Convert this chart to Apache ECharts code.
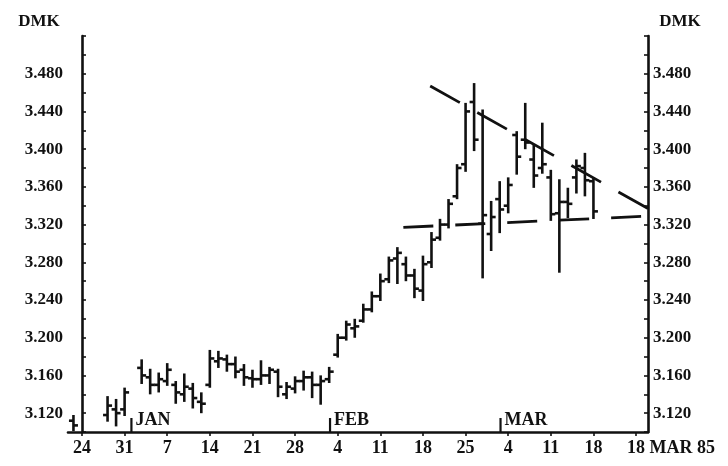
<!DOCTYPE html>
<html>
<head>
<meta charset="utf-8">
<script src="https://cdn.jsdelivr.net/npm/echarts@6/dist/echarts.min.js"></script>
<style>
  html, body { margin: 0; padding: 0; background: #ffffff; }
  #chart { width: 728px; height: 466px; }
</style>
</head>
<body>
<div id="chart"></div>
<script>
// Deutsche mark per US dollar, daily bars, Dec 1984 - Mar 1985.
// Trading-day number counted from Monday 24 Dec 1984 (weekends skipped).
const tradingDay = [-1, 3, 4, 5, 7, 8, 9, 10, 11, 12, 13, 14, 15, 16, 17, 18, 19, 20, 21, 22,
  23, 24, 25, 26, 27, 28, 29, 30, 31, 32, 33, 34, 35, 36, 37, 38, 39, 40, 41, 42,
  43, 44, 45, 46, 47, 48, 49, 50, 51, 52, 53, 54, 55, 56, 57, 58, 59, 60];
const opens = [3.112, 3.118, 3.124, 3.124, 3.168, 3.158, 3.150, 3.154, 3.150, 3.140, 3.146, 3.132, 3.150, 3.175, 3.177, 3.172, 3.166, 3.157, 3.156, 3.160,
  3.164, 3.140, 3.146, 3.154, 3.158, 3.150, 3.156, 3.182, 3.200, 3.210, 3.218, 3.230, 3.244, 3.262, 3.284, 3.278, 3.266, 3.250, 3.280, 3.306,
  3.320, 3.350, 3.384, 3.450, 3.321, 3.310, 3.347, 3.340, 3.415, 3.410, 3.389, 3.380, 3.370, 3.332, 3.344, 3.370, 3.380, 3.366];
const highs = [3.117, 3.137, 3.134, 3.146, 3.176, 3.166, 3.162, 3.172, 3.153, 3.161, 3.151, 3.141, 3.186, 3.185, 3.181, 3.179, 3.171, 3.165, 3.175, 3.168,
  3.166, 3.152, 3.158, 3.164, 3.163, 3.159, 3.168, 3.203, 3.217, 3.219, 3.235, 3.248, 3.267, 3.285, 3.295, 3.285, 3.272, 3.286, 3.311, 3.325,
  3.346, 3.383, 3.448, 3.469, 3.441, 3.344, 3.365, 3.369, 3.418, 3.448, 3.404, 3.427, 3.377, 3.367, 3.358, 3.388, 3.395, 3.369];
const lows = [3.102, 3.112, 3.107, 3.118, 3.152, 3.141, 3.143, 3.150, 3.131, 3.133, 3.126, 3.121, 3.148, 3.169, 3.165, 3.158, 3.150, 3.148, 3.151, 3.152,
  3.138, 3.136, 3.142, 3.145, 3.137, 3.130, 3.153, 3.180, 3.198, 3.201, 3.217, 3.228, 3.240, 3.259, 3.258, 3.261, 3.243, 3.240, 3.275, 3.304,
  3.317, 3.348, 3.377, 3.399, 3.264, 3.293, 3.312, 3.333, 3.374, 3.401, 3.360, 3.375, 3.325, 3.270, 3.328, 3.354, 3.351, 3.327];
const closes = [3.107, 3.128, 3.120, 3.142, 3.160, 3.150, 3.156, 3.166, 3.142, 3.148, 3.136, 3.130, 3.178, 3.178, 3.172, 3.164, 3.158, 3.156, 3.160, 3.166,
  3.148, 3.148, 3.154, 3.158, 3.150, 3.154, 3.164, 3.200, 3.214, 3.212, 3.230, 3.244, 3.260, 3.282, 3.290, 3.266, 3.252, 3.278, 3.304, 3.320,
  3.342, 3.380, 3.440, 3.410, 3.330, 3.328, 3.336, 3.362, 3.392, 3.407, 3.372, 3.384, 3.331, 3.344, 3.342, 3.382, 3.367, 3.334];

// Weekly (Monday) ticks along the date axis
const weekTicks = [0, 5, 10, 15, 20, 25, 30, 35, 40, 45, 50, 55, 60, 65];
const weekLabels = ['24', '31', '7', '14', '21', '28', '4', '11', '18', '25', '4', '11', '18', '18 MAR 85'];

// Month dividers
const monthNames = ['JAN', 'FEB', 'MAR'];
const monthDay = [5.8, 29.1, 49.1];

// Trend lines drawn on the chart
const resistanceLine = [[40.85, 3.467], [66.4, 3.337]];
const supportLine = [[37.7, 3.317], [66.4, 3.329]];

const FONT = '"Liberation Serif", "Times New Roman", serif';
const INK = '#111111';

const chart = echarts.init(document.getElementById('chart'));

const yLabel = function (v) {
  const r = Math.round(v * 1000);
  if (r < 3120 || r > 3480 || (r - 3120) % 40 !== 0) return '';
  return (r / 1000).toFixed(3);
};

const yAxisBase = {
  type: 'value',
  min: 3.10,
  max: 3.52,
  interval: 0.02,
  splitLine: { show: false },
  axisLine: { show: true, lineStyle: { color: INK, width: 2.6 } },
  axisTick: { show: true, inside: true, length: 4, lineStyle: { color: INK, width: 1.6 } },
  axisLabel: {
    formatter: yLabel,
    color: INK,
    fontFamily: FONT,
    fontSize: 17,
    fontWeight: 'bold',
    margin: 5
  },
  name: 'DMK',
  nameLocation: 'end',
  nameGap: 6,
  nameTextStyle: { color: INK, fontFamily: FONT, fontSize: 17, fontWeight: 'bold', align: 'center' }
};

const ohlcData = tradingDay.map((d, i) => [d, opens[i], highs[i], lows[i], closes[i]]);
const monthData = monthNames.map((m, i) => [monthDay[i], 3.10, m]);

chart.setOption({
  animation: false,
  backgroundColor: '#ffffff',
  grid: { left: 68, right: 80, top: 36, bottom: 34, containLabel: false },
  xAxis: {
    type: 'value',
    min: -1.64,
    max: 66.4,
    splitLine: { show: false },
    axisLine: { show: true, lineStyle: { color: INK, width: 2.6 } },
    axisTick: { show: true, customValues: weekTicks, length: 4, lineStyle: { color: INK, width: 1.6 } },
    axisLabel: {
      customValues: weekTicks,
      color: INK,
      fontFamily: FONT,
      fontSize: 18,
      fontWeight: 'bold',
      margin: 7,
      formatter: function (v) {
        const i = weekTicks.indexOf(Math.round(v));
        if (i < 0) return '';
        if (i === weekTicks.length - 1) return '{last|' + weekLabels[i] + '}';
        return weekLabels[i];
      },
      rich: {
        last: {
          color: INK,
          fontFamily: FONT,
          fontSize: 18,
          fontWeight: 'bold',
          padding: [0, 0, 0, 70]
        }
      }
    }
  },
  yAxis: [
    Object.assign({}, yAxisBase, {
      position: 'left',
      nameTextStyle: Object.assign({}, yAxisBase.nameTextStyle, { padding: [0, 86, 0, 0] })
    }),
    Object.assign({}, yAxisBase, {
      position: 'right',
      nameTextStyle: Object.assign({}, yAxisBase.nameTextStyle, { padding: [0, 0, 0, 64] })
    })
  ],
  series: [
    {
      type: 'custom',
      name: 'DMK',
      coordinateSystem: 'cartesian2d',
      encode: { x: 0, y: [1, 2, 3, 4] },
      data: ohlcData,
      clip: true,
      renderItem: function (params, api) {
        const x = api.value(0);
        const pO = api.coord([x, api.value(1)]);
        const pH = api.coord([x, api.value(2)]);
        const pL = api.coord([x, api.value(3)]);
        const pC = api.coord([x, api.value(4)]);
        const t = 4.5;
        const style = { stroke: INK, lineWidth: 2.6, lineCap: 'butt' };
        return {
          type: 'group',
          children: [
            { type: 'line', shape: { x1: pH[0], y1: pH[1] - 1, x2: pL[0], y2: pL[1] + 1 }, style: style },
            { type: 'line', shape: { x1: pO[0] - t, y1: pO[1], x2: pO[0], y2: pO[1] }, style: style },
            { type: 'line', shape: { x1: pC[0], y1: pC[1], x2: pC[0] + t, y2: pC[1] }, style: style }
          ]
        };
      }
    },
    {
      type: 'custom',
      name: 'months',
      coordinateSystem: 'cartesian2d',
      encode: { x: 0, y: 1 },
      data: monthData,
      renderItem: function (params, api) {
        const p = api.coord([api.value(0), api.value(1)]);
        return {
          type: 'group',
          children: [
            { type: 'line', shape: { x1: p[0], y1: p[1], x2: p[0], y2: p[1] - 14 }, style: { stroke: INK, lineWidth: 2.2 } },
            {
              type: 'text',
              x: p[0] + 4,
              y: p[1] - 3,
              style: {
                text: monthData[params.dataIndex][2],
                fill: INK,
                font: 'bold 18px ' + FONT,
                textAlign: 'left',
                textVerticalAlign: 'bottom'
              }
            }
          ]
        };
      }
    },
    {
      type: 'line',
      name: 'resistance',
      data: resistanceLine,
      symbol: 'none',
      silent: true,
      lineStyle: { color: INK, width: 2.8, type: [34, 20] }
    },
    {
      type: 'line',
      name: 'support',
      data: supportLine,
      symbol: 'none',
      silent: true,
      lineStyle: { color: INK, width: 2.8, type: [30, 22] }
    }
  ]
});
</script>
</body>
</html>
